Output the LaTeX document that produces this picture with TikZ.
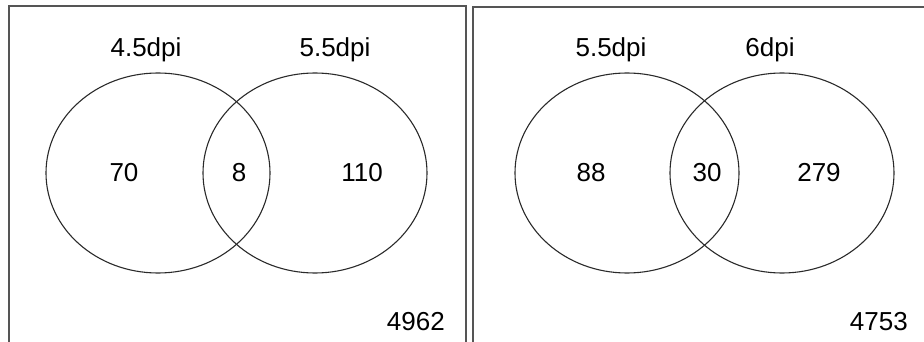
\documentclass[tikz,border=0pt]{standalone}
\usepackage{fontspec}
\setmainfont{Liberation Sans}
\usetikzlibrary{shapes.geometric}
\definecolor{frame-gray}{HTML}{555555}
\definecolor{ring}{HTML}{2A2A2A}

\begin{document}
\begin{tikzpicture}[x=1pt, y=-1pt,
    every node/.style={font=\fontsize{26}{30}\selectfont, inner sep=0},
    setring/.style={draw=ring, line width=1.1pt, ellipse, minimum width=224pt, minimum height=200pt}]
    \useasboundingbox (0,0) rectangle (924,342);
    \clip (0,0) rectangle (924,342);
    \begin{scope}
      \draw[frame-gray, line width=2pt] (9,350) -- (9,6) -- (466,6) -- (466,350);
      \node[setring] (eA) at (158,173) {};
      \node[setring] (eB) at (315,173) {};
      \node (tA) at (146,50) {4.5dpi};
      \node (tB) at (335,50) {5.5dpi};
      \node (nA) at (124,173) {70};
      \node (nAB) at (239,173) {8};
      \node (nB) at (362,173) {110};
      \node[anchor=east] (nTot) at (445,322) {4962};
    \end{scope}
    \begin{scope}
      \draw[frame-gray, line width=2pt] (473,350) -- (473,7) -- (930,7);
      \node[setring] (eC) at (627,173) {};
      \node[setring] (eD) at (782,173) {};
      \node (tC) at (611,50) {5.5dpi};
      \node (tD) at (770,50) {6dpi};
      \node (nC) at (591,173) {88};
      \node (nCD) at (707,173) {30};
      \node (nD) at (819,173) {279};
      \node[anchor=east] (nTot2) at (908,322) {4753};
    \end{scope}
  \end{tikzpicture}
\end{document}
